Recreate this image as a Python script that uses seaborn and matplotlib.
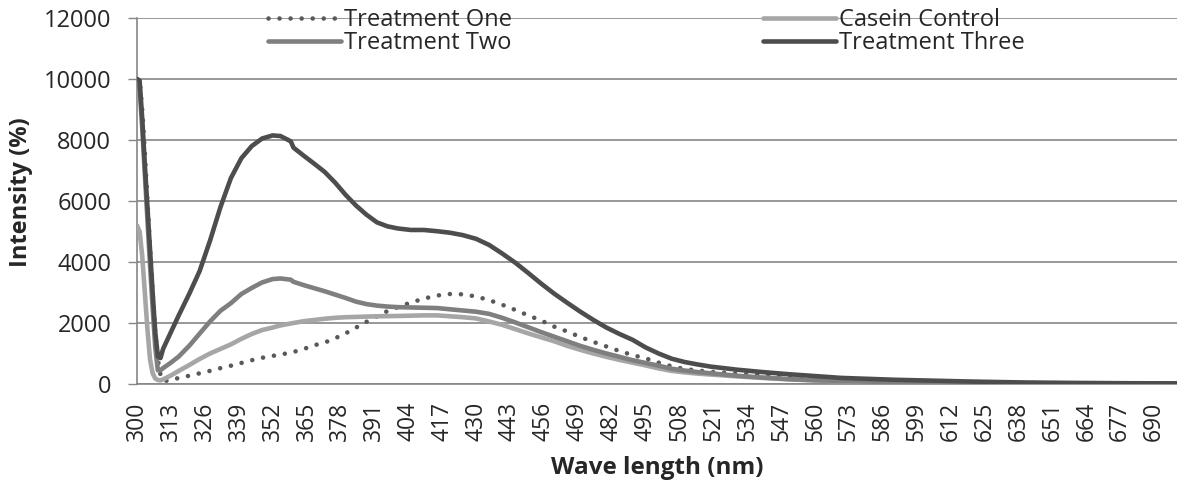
import numpy as np
import pandas as pd
import matplotlib
matplotlib.use("Agg")
import matplotlib.pyplot as plt
import seaborn as sns

# ---------------- data ----------------
wavelength = [300, 301, 302, 303, 304, 305, 306, 307, 308, 309, 310, 313, 316, 320, 324, 328,
              332, 336, 340, 344, 348, 352, 355, 358, 359, 360, 364, 368, 372, 376, 380, 384,
              388, 392, 396, 400, 405, 410, 415, 420, 425, 430, 435, 440, 445, 450, 455, 460,
              465, 470, 475, 480, 485, 490, 495, 500, 505, 510, 515, 520, 530, 540, 550, 560,
              570, 580, 590, 600, 620, 640, 660, 680, 700]

treatment_one = [10000, 10000, 9000, 7600, 6000, 4500, 3000, 1700, 800, 300, 100, 120, 200, 270, 350, 430,
                 520, 600, 690, 780, 860, 920, 970, 1010, 1030, 1050, 1150, 1270, 1360, 1500, 1660, 1850,
                 2040, 2220, 2390, 2520, 2670, 2800, 2900, 2950, 2940, 2870, 2750, 2600, 2430, 2250, 2080, 1880,
                 1720, 1540, 1380, 1230, 1080, 950, 840, 700, 580, 490, 440, 400, 340, 290, 240, 190,
                 150, 120, 100, 80, 55, 35, 25, 18, 15]

casein_control = [5200, 5000, 4200, 3000, 1800, 800, 350, 180, 130, 120, 150, 280, 430, 620, 820, 1000,
                  1150, 1300, 1480, 1640, 1770, 1850, 1920, 1970, 1985, 2000, 2060, 2100, 2140, 2170, 2190, 2200,
                  2210, 2220, 2225, 2230, 2240, 2250, 2250, 2220, 2190, 2150, 2050, 1940, 1800, 1660, 1530, 1400,
                  1250, 1120, 1000, 890, 790, 700, 610, 510, 430, 380, 340, 310, 250, 200, 150, 115,
                  90, 70, 55, 45, 30, 20, 15, 10, 8]

treatment_two = [9800, 9700, 8400, 6900, 5400, 3900, 2500, 1200, 450, 450, 520, 700, 900, 1250, 1650, 2050,
                 2400, 2650, 2950, 3150, 3330, 3440, 3460, 3430, 3420, 3350, 3240, 3140, 3040, 2930, 2820, 2700,
                 2620, 2570, 2540, 2520, 2510, 2500, 2490, 2450, 2410, 2370, 2300, 2170, 2020, 1860, 1700, 1550,
                 1400, 1250, 1120, 1000, 890, 780, 690, 600, 500, 440, 390, 350, 270, 210, 160, 125,
                 100, 80, 65, 50, 35, 25, 18, 13, 10]

treatment_three = [10000, 9950, 8700, 7200, 5800, 4400, 3000, 1700, 900, 850, 1150, 1700, 2250, 2950, 3700, 4700,
                   5800, 6750, 7400, 7800, 8050, 8150, 8130, 8000, 7950, 7750, 7480, 7220, 6950, 6600, 6200, 5850,
                   5550, 5300, 5170, 5100, 5050, 5050, 5010, 4960, 4880, 4760, 4560, 4280, 3980, 3640, 3290, 2960,
                   2660, 2370, 2100, 1850, 1640, 1450, 1200, 1000, 830, 720, 640, 570, 470, 390, 320, 260,
                   200, 170, 140, 120, 80, 50, 35, 25, 20]

series_names = ["Treatment One", "Casein Control", "Treatment Two", "Treatment Three"]
x_ticks = list(range(300, 691, 13))
y_ticks = [0, 2000, 4000, 6000, 8000, 10000, 12000]

# ---------------- style ----------------
sns.set_style("white")
plt.rcParams["font.family"] = ["Open Sans", "DejaVu Sans"]

W, H = 1177, 484
fig = plt.figure(figsize=(W / 100, H / 100), dpi=100)
left, right, top, bottom = 137, 1177, 18, 384
ax = fig.add_axes([left / W, 1 - bottom / H, (right - left) / W, (bottom - top) / H])

df = pd.DataFrame({"wl": wavelength, "one": treatment_one, "casein": casein_control,
                   "two": treatment_two, "three": treatment_three})

c_one, c_cas, c_two, c_three = "#595959", "#a6a6a6", "#7f7f7f", "#4d4d4d"
LW = 3.3

sns.lineplot(data=df, x="wl", y="one", ax=ax, color=c_one, linewidth=LW,
             linestyle=(0, (0.01, 2.4)), dash_capstyle="round", label=series_names[0], zorder=3)
sns.lineplot(data=df, x="wl", y="casein", ax=ax, color=c_cas, linewidth=LW,
             label=series_names[1], zorder=3, solid_capstyle="round")
sns.lineplot(data=df, x="wl", y="two", ax=ax, color=c_two, linewidth=LW,
             label=series_names[2], zorder=3, solid_capstyle="round")
sns.lineplot(data=df, x="wl", y="three", ax=ax, color=c_three, linewidth=LW,
             label=series_names[3], zorder=3, solid_capstyle="round")

ax.set_xlim(300, 300 + (right - left) / 2.608)
ax.set_ylim(0, 12000)
ax.set_xticks(x_ticks)
ax.set_xticklabels([str(t) for t in x_ticks], rotation=90, fontsize=16.5)
ax.set_yticks(y_ticks)
ax.set_yticklabels([str(t) for t in y_ticks], fontsize=17)
ax.tick_params(axis="y", length=6.5, width=1, color="#868686", pad=12, direction="out", left=True)
ax.tick_params(axis="x", length=0, pad=13)
ax.grid(axis="y", color="#868686", linewidth=1.2)
ax.grid(axis="x", visible=False)
ax.set_axisbelow(True)
for s in ["top", "right"]:
    ax.spines[s].set_visible(False)
for s in ["left", "bottom"]:
    ax.spines[s].set_color("#868686")
    ax.spines[s].set_linewidth(1.2)

ax.set_xlabel("Wave length (nm)", fontsize=17.5, fontweight="bold")
ax.xaxis.set_label_coords(0.5, (bottom - 456) / (bottom - top))
ax.set_ylabel("Intensity (%)", fontsize=17, fontweight="bold")
ax.yaxis.set_label_coords((33 - left) / (right - left), (bottom - 192) / (bottom - top))

# legend: two columns built as two legends
handles, labels = ax.get_legend_handles_labels()
hmap = dict(zip(labels, handles))
ax.get_legend().remove()
common = dict(frameon=False, borderpad=0, borderaxespad=0, handlelength=3.1,
              handletextpad=0.12, labelspacing=-0.05, fontsize=17, loc="upper left",
              bbox_transform=fig.transFigure)
leg1 = ax.legend([hmap["Treatment One"], hmap["Treatment Two"]], ["Treatment One", "Treatment Two"],
                 bbox_to_anchor=(268 / W, 1 - 8.5 / H), **common)
ax.add_artist(leg1)
leg2 = ax.legend([hmap["Casein Control"], hmap["Treatment Three"]], ["Casein Control", "Treatment Three"],
                 bbox_to_anchor=(763 / W, 1 - 8.5 / H), **common)

fig.savefig("out.png", dpi=100)
